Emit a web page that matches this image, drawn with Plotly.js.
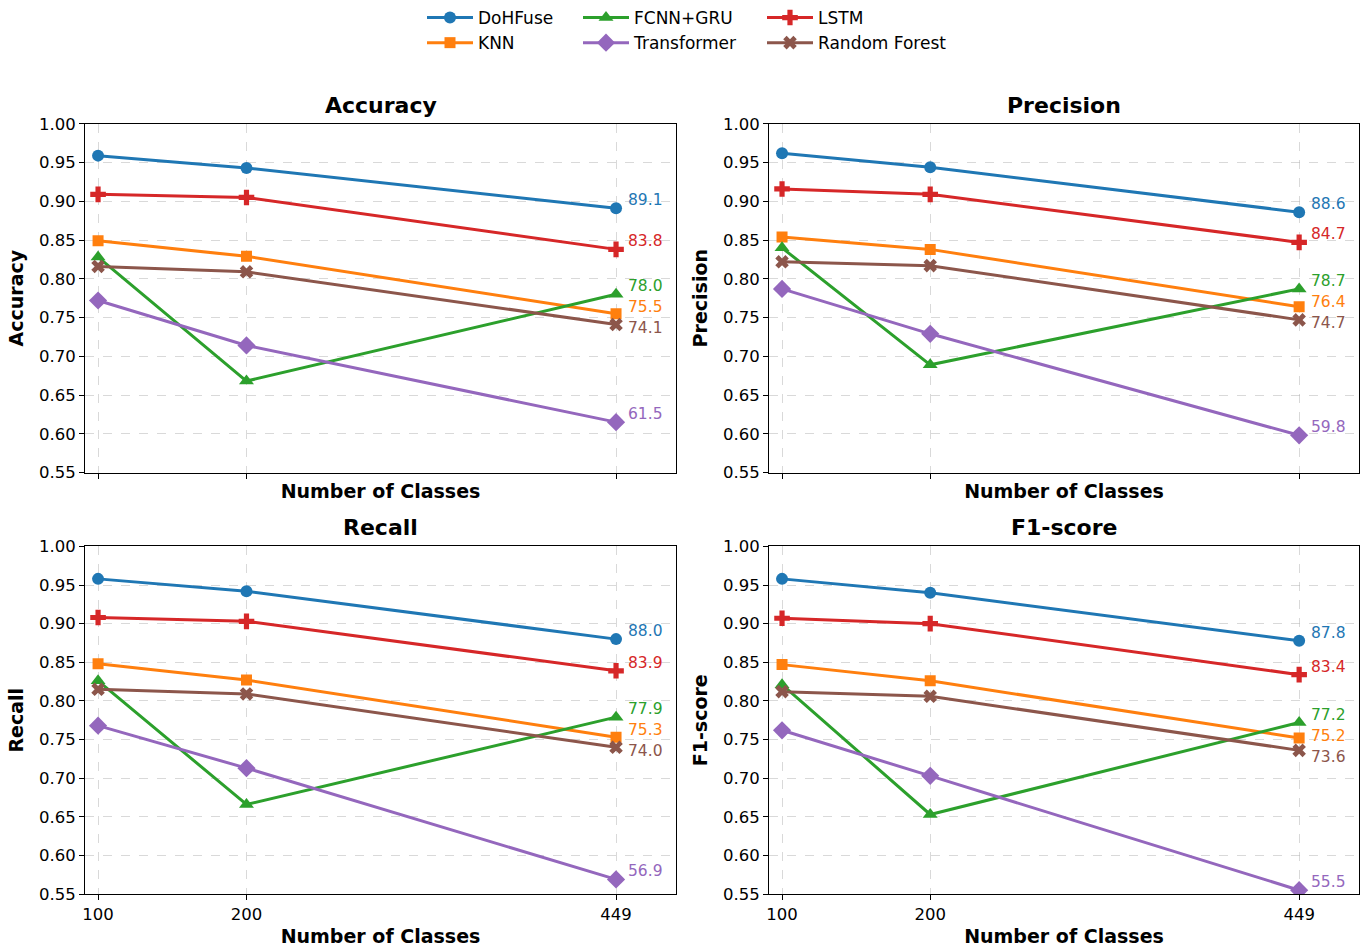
<!DOCTYPE html>
<html>
<head>
<meta charset="utf-8">
<script src="https://cdn.plot.ly/plotly-3.0.1.min.js"></script>
<style>html,body{margin:0;padding:0;background:#fff;}#chart{width:1362px;height:948px;}</style>
</head>
<body>
<div id="chart"></div>
<script>
// ---- Data ----
const classes = [100, 200, 449];
const tickLabels = ['100', '200', '449'];
const models = ['DoHFuse', 'KNN', 'FCNN+GRU', 'Transformer', 'LSTM', 'Random Forest'];
const metricNames = ['Accuracy', 'Precision', 'Recall', 'F1-score'];
// rows follow `models` order, columns follow `classes`
const accuracy = [
  [0.959, 0.943, 0.891],
  [0.849, 0.829, 0.755],
  [0.828, 0.668, 0.780],
  [0.772, 0.714, 0.615],
  [0.909, 0.905, 0.838],
  [0.816, 0.809, 0.741]
];
const precision = [
  [0.962, 0.944, 0.886],
  [0.854, 0.838, 0.764],
  [0.840, 0.689, 0.787],
  [0.787, 0.729, 0.598],
  [0.916, 0.909, 0.847],
  [0.822, 0.817, 0.747]
];
const recall = [
  [0.958, 0.942, 0.880],
  [0.848, 0.827, 0.753],
  [0.826, 0.666, 0.779],
  [0.768, 0.713, 0.569],
  [0.908, 0.903, 0.839],
  [0.815, 0.809, 0.740]
];
const f1score = [
  [0.958, 0.940, 0.878],
  [0.847, 0.826, 0.752],
  [0.821, 0.653, 0.772],
  [0.762, 0.703, 0.555],
  [0.907, 0.900, 0.834],
  [0.812, 0.806, 0.736]
];

// ---- Styles ----
const colors = ['#1f77b4', '#ff7f0e', '#2ca02c', '#9467bd', '#d62728', '#8c564b'];
const symbols = ['circle', 'square', 'triangle-up', 'diamond', 'cross', 'x'];
const symbolSizes = [12, 11, 13, 14, 13, 12];
const legendOf = ['legend', 'legend', 'legend2', 'legend2', 'legend3', 'legend3'];
const FONT = 'DejaVu Sans, Arial, sans-serif';
const W = 1362, H = 948;

const allMetrics = [accuracy, precision, recall, f1score];
const xDomains = [[85 / W, 676 / W], [769 / W, 1359 / W]];
const yDomains = [[1 - 472 / H, 1 - 123 / H], [1 - 894 / H, 1 - 546 / H]];
const yRange = [0.55, 1.0];
const xRange = [91.2, 489.4];

const traces = [];
const annotations = [];
const legendBase = {
  orientation: 'v', xanchor: 'left', y: 1 + 1 / H, yanchor: 'top',
  font: {family: FONT, size: 17, color: '#000'},
  bgcolor: 'rgba(0,0,0,0)', itemwidth: 46, tracegroupgap: 0
};
const layout = {
  width: W, height: H,
  margin: {l: 0, r: 0, t: 0, b: 0},
  paper_bgcolor: '#fff', plot_bgcolor: '#fff',
  font: {family: FONT, color: '#000', size: 16},
  showlegend: true,
  legend: Object.assign({}, legendBase, {x: 422 / W}),
  legend2: Object.assign({}, legendBase, {x: 578 / W}),
  legend3: Object.assign({}, legendBase, {x: 762 / W}),
  annotations: annotations
};

allMetrics.forEach((metric, k) => {
  const row = Math.floor(k / 2), col = k % 2;
  const idx = k === 0 ? '' : String(k + 1);
  const xa = 'x' + idx, ya = 'y' + idx;
  const isBottom = row === 1;
  layout['xaxis' + idx] = {
    domain: xDomains[col], anchor: ya, range: xRange,
    tickmode: 'array', tickvals: classes, ticktext: tickLabels,
    showticklabels: isBottom, ticks: 'outside', ticklen: 5, tickwidth: 1, tickcolor: '#000',
    tickfont: {family: FONT, size: 16.5, color: '#000'},
    showline: true, linecolor: '#000', linewidth: 1, mirror: true,
    showgrid: true, gridcolor: 'rgba(180,180,180,0.5)', griddash: 'dash', gridwidth: 1,
    zeroline: false,
    title: {text: '<b>Number of Classes</b>', font: {family: FONT, size: 19, color: '#000'}, standoff: isBottom ? 6 : 7}
  };
  layout['yaxis' + idx] = {
    domain: yDomains[row], anchor: xa, range: yRange,
    tickmode: 'array', tickvals: [0.55, 0.6, 0.65, 0.7, 0.75, 0.8, 0.85, 0.9, 0.95, 1.0],
    tickformat: '.2f',
    ticks: 'outside', ticklen: 5, tickwidth: 1, tickcolor: '#000',
    tickfont: {family: FONT, size: 16.5, color: '#000'},
    showline: true, linecolor: '#000', linewidth: 1, mirror: true,
    showgrid: true, gridcolor: 'rgba(180,180,180,0.5)', griddash: 'dash', gridwidth: 1,
    zeroline: false,
    title: {text: '<b>' + metricNames[k] + '</b>', font: {family: FONT, size: 19, color: '#000'}, standoff: 10}
  };
  // subplot title
  annotations.push({
    text: '<b>' + metricNames[k] + '</b>', xref: 'paper', yref: 'paper',
    x: (xDomains[col][0] + xDomains[col][1]) / 2, y: yDomains[row][1],
    xanchor: 'center', yanchor: 'bottom', yshift: 4, showarrow: false,
    font: {family: FONT, size: 22, color: '#000'}
  });

  const axisPx = (yDomains[row][1] - yDomains[row][0]) * H;
  const pxPerUnit = axisPx / (yRange[1] - yRange[0]);
  const labels = [];
  metric.forEach((vals, m) => {
    traces.push({
      type: 'scatter', mode: 'lines+markers', x: classes, y: vals,
      xaxis: xa, yaxis: ya, name: models[m], legend: legendOf[m],
      showlegend: k === 0,
      line: {color: colors[m], width: 3},
      marker: {symbol: symbols[m], size: symbolSizes[m], color: colors[m]},
      hoverinfo: 'x+y+name'
    });
    const last = vals[vals.length - 1];
    const pointPx = (yRange[1] - last) * pxPerUnit;
    labels.push({m: m, value: last, pointPx: pointPx, center: pointPx - 8});
  });
  // de-overlap end labels
  labels.sort((a, b) => a.center - b.center);
  for (let i = 1; i < labels.length; i++) {
    if (labels[i].center < labels[i - 1].center + 21) labels[i].center = labels[i - 1].center + 21;
  }
  labels.forEach(l => {
    annotations.push({
      text: (l.value * 100).toFixed(1), xref: xa, yref: ya,
      x: classes[classes.length - 1], y: l.value,
      xanchor: 'left', yanchor: 'middle', xshift: 10, yshift: -(l.center - l.pointPx),
      showarrow: false, font: {family: FONT, size: 15.5, color: colors[l.m]}
    });
  });
});

Plotly.newPlot('chart', traces, layout, {displayModeBar: false, staticPlot: true});
</script>
</body>
</html>
